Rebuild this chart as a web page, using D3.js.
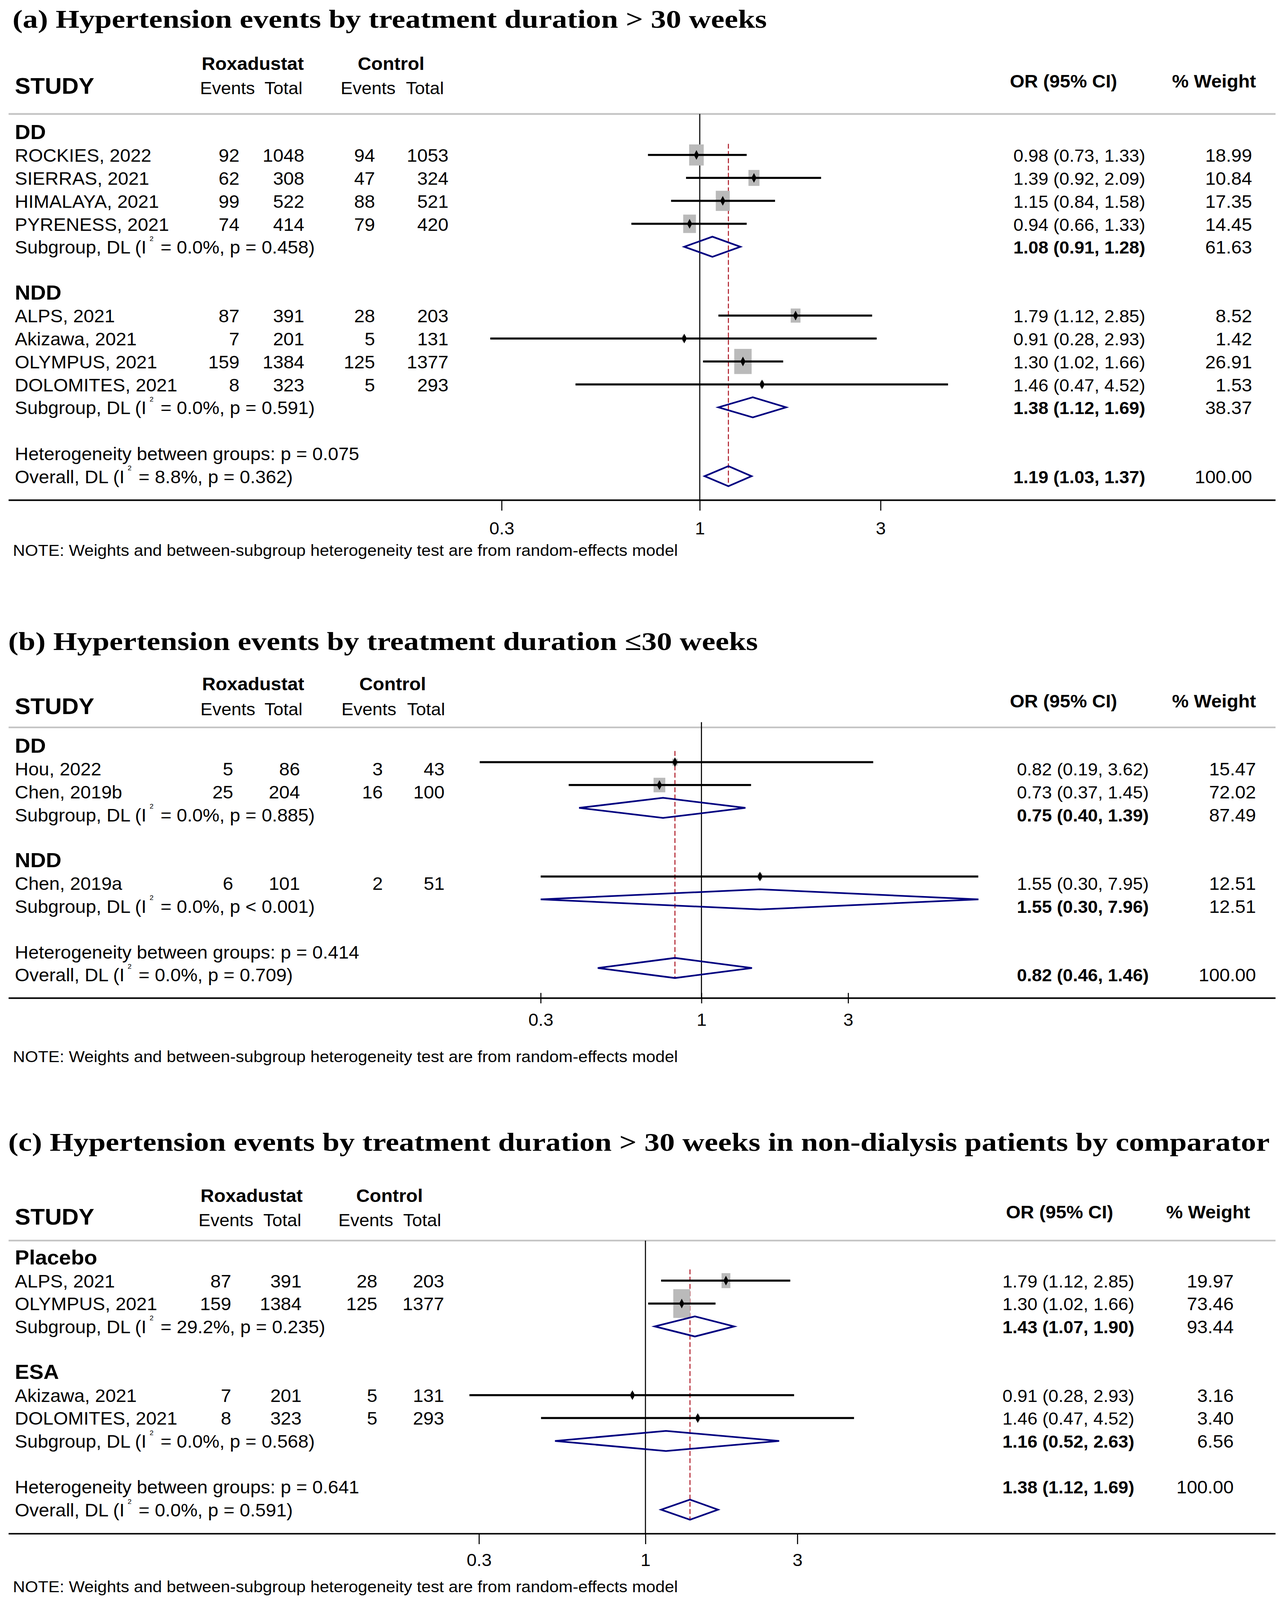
<!DOCTYPE html>
<html>
<head>
<meta charset="utf-8">
<script src="https://cdn.jsdelivr.net/npm/d3@7"></script>
<style>
html, body { margin: 0; padding: 0; background: #fff; overflow: hidden; }
svg { display: block; }
</style>
</head>
<body>
<svg id="chart"></svg>
<script>
// ---- data ----
var titles = [
  "(a) Hypertension events by treatment duration > 30 weeks",
  "(b) Hypertension events by treatment duration \u226430 weeks",
  "(c) Hypertension events by treatment duration > 30 weeks in non-dialysis  patients by comparator"
];

// study rows: group, label, roxadustat events/total, control events/total, OR, CI, % weight
var studiesA = [
  {grp: "DD", name: "ROCKIES, 2022", re: 92, rt: 1048, ce: 94, ct: 1053, or: 0.98, lo: 0.73, hi: 1.33, w: 18.99},
  {grp: "DD", name: "SIERRAS, 2021", re: 62, rt: 308, ce: 47, ct: 324, or: 1.39, lo: 0.92, hi: 2.09, w: 10.84},
  {grp: "DD", name: "HIMALAYA, 2021", re: 99, rt: 522, ce: 88, ct: 521, or: 1.15, lo: 0.84, hi: 1.58, w: 17.35},
  {grp: "DD", name: "PYRENESS, 2021", re: 74, rt: 414, ce: 79, ct: 420, or: 0.94, lo: 0.66, hi: 1.33, w: 14.45},
  {grp: "NDD", name: "ALPS, 2021", re: 87, rt: 391, ce: 28, ct: 203, or: 1.79, lo: 1.12, hi: 2.85, w: 8.52},
  {grp: "NDD", name: "Akizawa, 2021", re: 7, rt: 201, ce: 5, ct: 131, or: 0.91, lo: 0.28, hi: 2.93, w: 1.42},
  {grp: "NDD", name: "OLYMPUS, 2021", re: 159, rt: 1384, ce: 125, ct: 1377, or: 1.30, lo: 1.02, hi: 1.66, w: 26.91},
  {grp: "NDD", name: "DOLOMITES, 2021", re: 8, rt: 323, ce: 5, ct: 293, or: 1.46, lo: 0.47, hi: 4.52, w: 1.53}
];
var subgroupsA = [
  {grp: "DD", i2: "0.0%", p: "p = 0.458", or: 1.08, lo: 0.91, hi: 1.28, w: 61.63},
  {grp: "NDD", i2: "0.0%", p: "p = 0.591", or: 1.38, lo: 1.12, hi: 1.69, w: 38.37}
];
var overallA = {het: "p = 0.075", i2: "8.8%", p: "p = 0.362", or: 1.19, lo: 1.03, hi: 1.37, w: 100.00};

var studiesB = [
  {grp: "DD", name: "Hou, 2022", re: 5, rt: 86, ce: 3, ct: 43, or: 0.82, lo: 0.19, hi: 3.62, w: 15.47},
  {grp: "DD", name: "Chen, 2019b", re: 25, rt: 204, ce: 16, ct: 100, or: 0.73, lo: 0.37, hi: 1.45, w: 72.02},
  {grp: "NDD", name: "Chen, 2019a", re: 6, rt: 101, ce: 2, ct: 51, or: 1.55, lo: 0.30, hi: 7.95, w: 12.51}
];
var subgroupsB = [
  {grp: "DD", i2: "0.0%", p: "p = 0.885", or: 0.75, lo: 0.40, hi: 1.39, w: 87.49},
  {grp: "NDD", i2: "0.0%", p: "p < 0.001", or: 1.55, lo: 0.30, hi: 7.96, w: 12.51}
];
var overallB = {het: "p = 0.414", i2: "0.0%", p: "p = 0.709", or: 0.82, lo: 0.46, hi: 1.46, w: 100.00};

var studiesC = [
  {grp: "Placebo", name: "ALPS, 2021", re: 87, rt: 391, ce: 28, ct: 203, or: 1.79, lo: 1.12, hi: 2.85, w: 19.97},
  {grp: "Placebo", name: "OLYMPUS, 2021", re: 159, rt: 1384, ce: 125, ct: 1377, or: 1.30, lo: 1.02, hi: 1.66, w: 73.46},
  {grp: "ESA", name: "Akizawa, 2021", re: 7, rt: 201, ce: 5, ct: 131, or: 0.91, lo: 0.28, hi: 2.93, w: 3.16},
  {grp: "ESA", name: "DOLOMITES, 2021", re: 8, rt: 323, ce: 5, ct: 293, or: 1.46, lo: 0.47, hi: 4.52, w: 3.40}
];
var subgroupsC = [
  {grp: "Placebo", i2: "29.2%", p: "p = 0.235", or: 1.43, lo: 1.07, hi: 1.90, w: 93.44},
  {grp: "ESA", i2: "0.0%", p: "p = 0.568", or: 1.16, lo: 0.52, hi: 2.63, w: 6.56}
];
var overallC = {het: "p = 0.641", i2: "0.0%", p: "p = 0.591", or: 1.38, lo: 1.12, hi: 1.69, w: 100.00};

var tickValues = [0.3, 1, 3];
var note = "NOTE: Weights and between-subgroup heterogeneity test are from random-effects model";

// ---- layout (pixel positions measured on the reference) ----
var W = 3279, H = 4296;
var sans = "'Liberation Sans', Arial, sans-serif";
var serif = "'Liberation Serif', 'Times New Roman', serif";

var panels = [
  {studies: studiesA, subs: subgroupsA, all: overallA, title: titles[0],
   titleY: 74, titleX: [32, 1963], armY: 188, studyY: 252, evY: 253, orHdrY: 235, grayY: 306, nullTop: 306,
   row0: 373, step: 61.6, markOff: 18.5, axisY: 1343, tickLabY: 1435, noteY: 1493,
   range: [1284, 2254], cols: [613, 779, 960, 1148],
   roxX: 647, ctlX: 1001, hdrX: [512, 677, 872, 1039],
   orX: 2594, wX: 3205, orHdrX: 2585, wHdrX: 3000, tick: [0, 28], boxK: 13, boxAspect: 0.66, overallTextOnHet: false},
  {studies: studiesB, subs: subgroupsB, all: overallB, title: titles[1],
   titleY: 1745, titleX: [21, 1940], armY: 1853, studyY: 1917, evY: 1920, orHdrY: 1899, grayY: 1953, nullTop: 1939,
   row0: 2021, step: 61.4, markOff: 36, axisY: 2680, tickLabY: 2755, noteY: 2852,
   range: [1384, 2171], cols: [597, 768, 980, 1138],
   roxX: 648, ctlX: 1005, hdrX: [513, 677, 874, 1042],
   orX: 2603, wX: 3215, orHdrX: 2585, wHdrX: 3000, tick: [-14, 14], boxK: 4.6, boxAspect: 0.77, overallTextOnHet: false},
  {studies: studiesC, subs: subgroupsC, all: overallC, title: titles[2],
   titleY: 3090, titleX: [21, 3250], armY: 3227, studyY: 3288, evY: 3292, orHdrY: 3271, grayY: 3331, nullTop: 3331,
   row0: 3395, step: 61.5, markOff: 18, axisY: 4118, tickLabY: 4205, noteY: 4275,
   range: [1226, 2041], cols: [592, 772, 966, 1137],
   roxX: 644, ctlX: 997, hdrX: [508, 674, 866, 1032],
   orX: 2566, wX: 3158, orHdrX: 2575, wHdrX: 2985, tick: [0, 28], boxK: 9, boxAspect: 0.56, overallTextOnHet: true}
];

var fmt2 = d3.format(".2f");
function ciText(d) { return fmt2(d.or) + " (" + fmt2(d.lo) + ", " + fmt2(d.hi) + ")"; }

// the whole figure is drawn in reference pixels and fitted to the window
var vw = window.innerWidth || W, vh = window.innerHeight || H;
var svg = d3.select("#chart").attr("width", vw).attr("height", vh)
  .attr("viewBox", "0 0 " + W + " " + H).attr("preserveAspectRatio", "none")
  .style("font-family", sans);
svg.append("rect").attr("width", W).attr("height", H).attr("fill", "#fff");

panels.forEach(function(P) {
  var g = svg.append("g");
  var x = d3.scaleLog().domain([0.3, 3]).range(P.range);

  // build the row list: group header, studies, subgroup, blank ... het, overall
  var rows = [];
  var groups = [];
  P.studies.forEach(function(s) { if (groups.indexOf(s.grp) < 0) groups.push(s.grp); });
  groups.forEach(function(grp) {
    rows.push({type: "group", label: grp});
    P.studies.filter(function(s) { return s.grp == grp; }).forEach(function(s) {
      rows.push({type: "study", d: s});
    });
    rows.push({type: "sub", d: P.subs.filter(function(s) { return s.grp == grp; })[0]});
    rows.push({type: "blank"});
  });
  rows.push({type: "het", d: P.all});
  rows.push({type: "overall", d: P.all});
  rows.forEach(function(r, i) { r.y = P.row0 + i * P.step; r.cy = r.y - P.markOff; });

  // title
  g.append("text").attr("x", P.titleX[0]).attr("y", P.titleY)
    .attr("textLength", P.titleX[1] - P.titleX[0]).attr("lengthAdjust", "spacingAndGlyphs")
    .style("font-family", serif).style("font-weight", "bold").style("font-size", "68px")
    .text(P.title);

  // column headers
  g.append("text").attr("x", P.roxX).attr("y", P.armY).attr("text-anchor", "middle")
    .style("font-weight", "bold").style("font-size", "48px").text("Roxadustat");
  g.append("text").attr("x", P.ctlX).attr("y", P.armY).attr("text-anchor", "middle")
    .style("font-weight", "bold").style("font-size", "48px").text("Control");
  g.append("text").attr("x", 38).attr("y", P.studyY)
    .style("font-weight", "bold").style("font-size", "60px").text("STUDY");
  ["Events", "Total", "Events", "Total"].forEach(function(t, i) {
    g.append("text").attr("x", P.hdrX[i]).attr("y", P.evY)
      .style("font-size", "46px").text(t);
  });
  g.append("text").attr("x", P.orHdrX).attr("y", P.orHdrY)
    .style("font-weight", "bold").style("font-size", "48px").text("OR (95% CI)");
  g.append("text").attr("x", P.wHdrX).attr("y", P.orHdrY)
    .style("font-weight", "bold").style("font-size", "48px").text("% Weight");

  // rule lines
  g.append("line").attr("x1", 22).attr("x2", 3265).attr("y1", P.grayY).attr("y2", P.grayY)
    .attr("stroke", "#c4c4c4").attr("stroke-width", 4.5);
  g.append("line").attr("x1", 22).attr("x2", 3265).attr("y1", P.axisY).attr("y2", P.axisY)
    .attr("stroke", "#000").attr("stroke-width", 4);

  // null line at OR = 1
  g.append("line").attr("x1", x(1)).attr("x2", x(1)).attr("y1", P.nullTop).attr("y2", P.axisY)
    .attr("stroke", "#000").attr("stroke-width", 2.7);

  // axis ticks via d3 axis
  var axis = d3.axisBottom(x).tickValues(tickValues).tickFormat(function(d) { return String(d); })
    .tickSize(P.tick[1] - P.tick[0]).tickPadding(P.tickLabY - P.axisY - P.tick[1] - 33);
  var ag = g.append("g").attr("transform", "translate(0," + (P.axisY + P.tick[0]) + ")").call(axis);
  ag.select(".domain").remove();
  ag.selectAll(".tick line").attr("stroke", "#000").attr("stroke-width", 2.7);
  ag.selectAll(".tick text").style("font-family", sans).style("font-size", "46px").attr("fill", "#000")
    .attr("y", P.tickLabY - P.axisY - P.tick[0] - 33);

  // overall dashed line
  var first = rows[1];
  var ov = rows[rows.length - 1];
  g.append("line").attr("x1", x(P.all.or)).attr("x2", x(P.all.or))
    .attr("y1", first.cy - 30).attr("y2", ov.cy + 28)
    .attr("stroke", "#b2222e").attr("stroke-width", 2.7).attr("stroke-dasharray", "13,6.5");

  // rows
  rows.forEach(function(r) {
    if (r.type == "group") {
      g.append("text").attr("x", 38).attr("y", r.y)
        .style("font-weight", "bold").style("font-size", "55px").text(r.label);
    }
    if (r.type == "study") {
      var d = r.d;
      g.append("text").attr("x", 38).attr("y", r.y).style("font-size", "48px").text(d.name);
      [d.re, d.rt, d.ce, d.ct].forEach(function(v, i) {
        g.append("text").attr("x", P.cols[i]).attr("y", r.y).attr("text-anchor", "end")
          .style("font-size", "48px").text(v);
      });
      g.append("text").attr("x", P.orX).attr("y", r.y).style("font-size", "46px").text(ciText(d));
      g.append("text").attr("x", P.wX).attr("y", r.y).attr("text-anchor", "end")
        .style("font-size", "48px").text(fmt2(d.w));
      // weight box, area proportional to the weight
      var bh = P.boxK * Math.sqrt(d.w), bw = bh * P.boxAspect;
      g.append("rect").attr("x", x(d.or) - bw / 2).attr("y", r.cy - bh / 2)
        .attr("width", bw).attr("height", bh).attr("fill", "#bababa");
      g.append("line").attr("x1", x(d.lo)).attr("x2", x(d.hi)).attr("y1", r.cy).attr("y2", r.cy)
        .attr("stroke", "#000").attr("stroke-width", 5.5);
      var mx = x(d.or);
      g.append("path")
        .attr("d", "M" + mx + "," + (r.cy - 13) + "L" + (mx + 6.5) + "," + r.cy + "L" + mx + "," + (r.cy + 13) + "L" + (mx - 6.5) + "," + r.cy + "Z")
        .attr("fill", "#000");
    }
    if (r.type == "sub" || r.type == "overall") {
      var d = r.d;
      var t = g.append("text").attr("x", 38).attr("y", r.y).style("font-size", "48px");
      t.append("tspan").text((r.type == "sub" ? "Subgroup, DL (I" : "Overall, DL (I"));
      t.append("tspan").attr("dx", 8).attr("dy", -34).style("font-size", "18px").text("2");
      t.append("tspan").attr("dx", 18).attr("dy", 34).text("= " + d.i2 + ", " + d.p + ")");
      var ty = (r.type == "overall" && P.overallTextOnHet) ? r.y - P.step : r.y;
      g.append("text").attr("x", P.orX).attr("y", ty).style("font-size", "46px")
        .style("font-weight", "bold").text(ciText(d));
      g.append("text").attr("x", P.wX).attr("y", ty).attr("text-anchor", "end")
        .style("font-size", "48px").text(fmt2(d.w));
      g.append("path")
        .attr("d", "M" + x(d.lo) + "," + r.cy + "L" + x(d.or) + "," + (r.cy - 27) + "L" + x(d.hi) + "," + r.cy + "L" + x(d.or) + "," + (r.cy + 27) + "Z")
        .attr("fill", "none").attr("stroke", "#000080").attr("stroke-width", 4.5)
        .attr("stroke-linejoin", "miter");
    }
    if (r.type == "het") {
      g.append("text").attr("x", 38).attr("y", r.y).style("font-size", "48px")
        .text("Heterogeneity between groups: " + r.d.het);
    }
  });

  g.append("text").attr("x", 33).attr("y", P.noteY).style("font-size", "43px").text(note);
});
</script>
</body>
</html>
